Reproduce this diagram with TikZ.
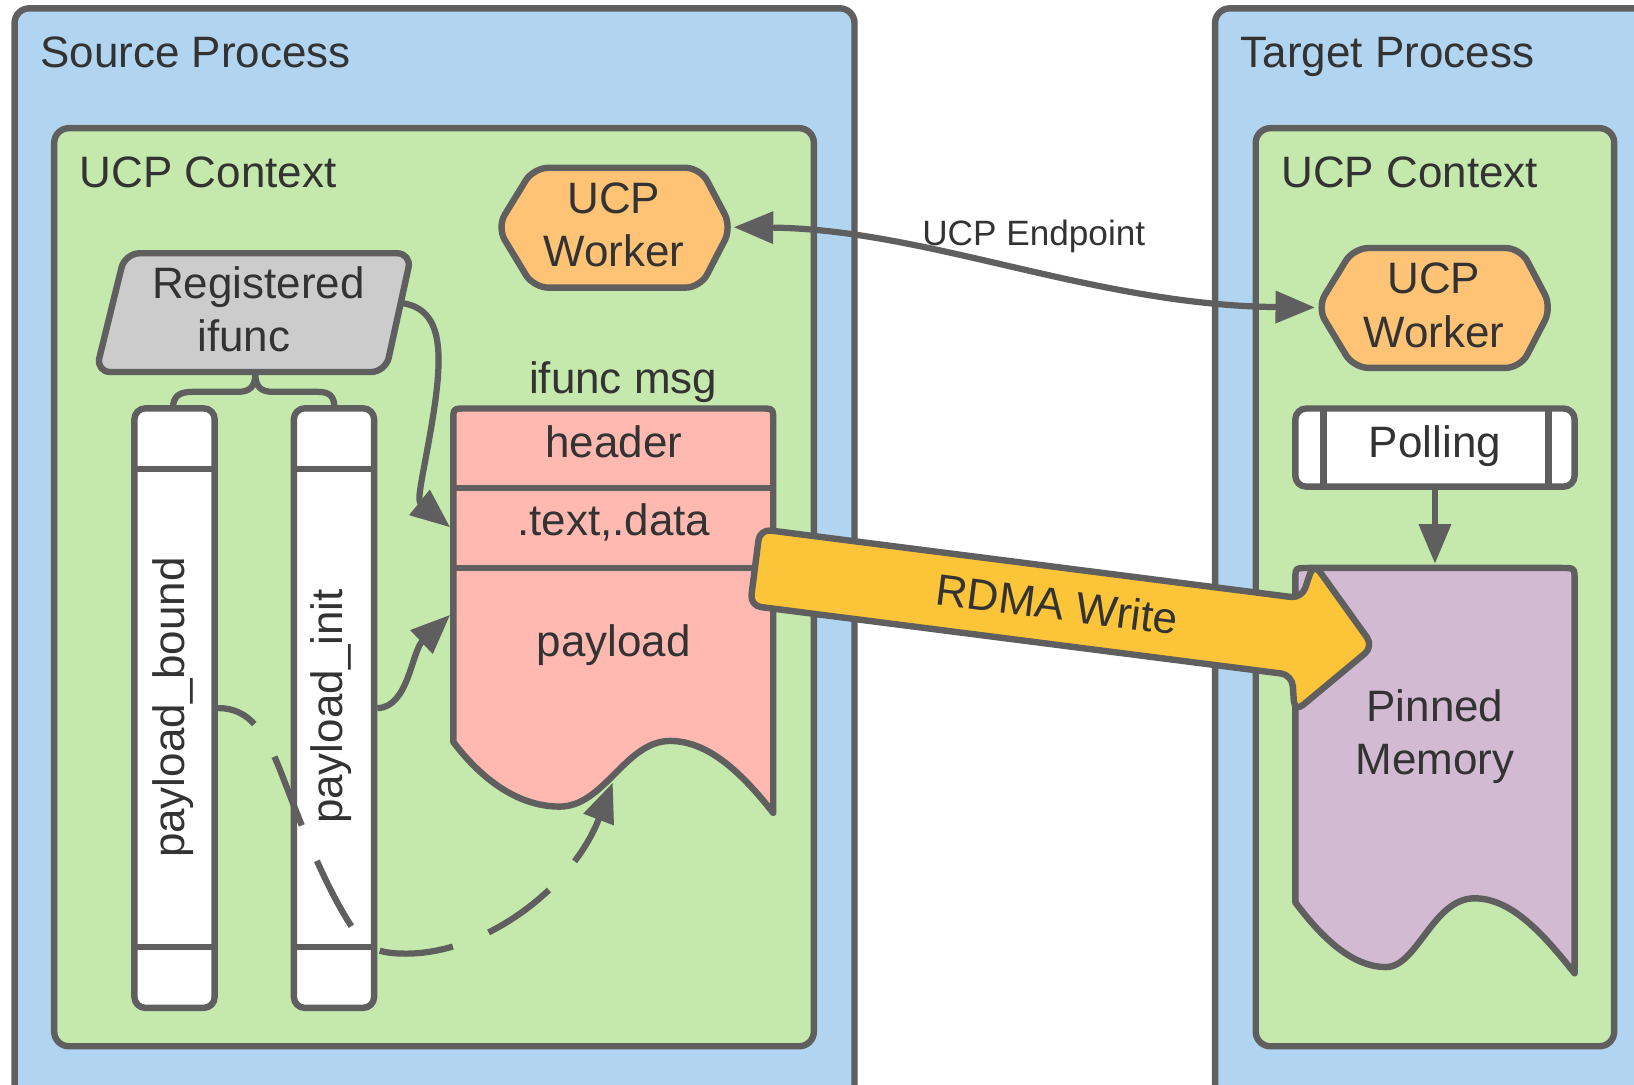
\documentclass[tikz,border=0pt]{standalone}
\usepackage{fontspec}
\setmainfont{Liberation Sans}
\usetikzlibrary{arrows.meta}
\definecolor{procblue}{HTML}{B1D5F0}
\definecolor{ctxgreen}{HTML}{C5E8AC}
\definecolor{workerorange}{HTML}{FFC375}
\definecolor{reggray}{HTML}{CCCCCC}
\definecolor{msgpink}{HTML}{FFB9B0}
\definecolor{pinpurple}{HTML}{D2BAD2}
\definecolor{rdmayellow}{HTML}{FCC438}
\definecolor{edge}{HTML}{5F5F5F}
\definecolor{ink}{HTML}{333333}
\begin{document}
\begin{tikzpicture}[x=0.01cm, y=-0.01cm,
  box/.style={draw=edge, line width=1.75pt, line join=round},
  txt/.style={text=ink, font=\fontsize{12}{14.5}\selectfont, inner sep=0pt, align=center},
  small/.style={text=ink, font=\fontsize{9.6}{11.5}\selectfont, inner sep=0pt},
  link/.style={draw=edge, line width=1.7pt, line join=round},
  arr/.style={-{Triangle[length=10.8pt,width=8.5pt]}},
  biarr/.style={{Triangle[length=10.8pt,width=8.5pt]}-{Triangle[length=10.8pt,width=8.5pt]}},
  colbox/.style={box, fill=white, rounded corners=3pt, minimum width=0.77cm, minimum height=5.75cm, inner sep=0pt},
]
\useasboundingbox (0,0) rectangle (1568,1041);
\clip (0,0) rectangle (1568,1041);

% process frames
\draw[box, fill=procblue, rounded corners=4pt] (14,8) rectangle (820,1080);
\node[txt, anchor=base west] (srcproc) at (38,65) {Source Process};
\draw[box, fill=procblue, rounded corners=4pt] (1166,8) rectangle (1610,1080);
\node[txt, anchor=base west] (tgtproc) at (1190,65) {Target Process};

% UCP contexts
\draw[box, fill=ctxgreen, rounded corners=4pt] (52,123) rectangle (781,1004);
\node[txt, anchor=base west] (srcctx) at (76,180) {UCP Context};
\draw[box, fill=ctxgreen, rounded corners=4pt] (1205,123) rectangle (1549,1004);
\node[txt, anchor=base west] (tgtctx) at (1229,180) {UCP Context};

% UCP workers
\draw[box, fill=workerorange, rounded corners=4pt]
  (592,161) -- (672,161) -- (702,218) -- (672,276) -- (512,276) -- (477,218) -- (512,161) -- cycle;
\node[txt] (srcworker) at (589,216) {UCP\\Worker};
\coordinate (swE) at (704,218);
\draw[box, fill=workerorange, rounded corners=4pt]
  (1379,238) -- (1459,238) -- (1489,295) -- (1459,353) -- (1299,353) -- (1264,295) -- (1299,238) -- cycle;
\node[txt] (tgtworker) at (1376,293) {UCP\\Worker};
\coordinate (twW) at (1262,295);

% registered ifunc
\draw[box, fill=reggray, rounded corners=4pt]
  (257,243) -- (395,243) -- (370,357) -- (92,357) -- (120,243) -- cycle;
\node[txt] (regifunc) at (241,297) {\hspace*{0.14cm}Registered\\ifunc\hspace*{0.14cm}};
\coordinate (regR) at (387,291);
\coordinate (regB) at (245,358);

% payload columns
\node[colbox] (colbound) at (167.5,679.5) {};
\draw[box] (129,450) -- (206,450) (129,909) -- (206,909);
\node[txt, rotate=90] (lblbound) at (166,679) {payload\_bound};
\node[colbox] (colinit) at (320.5,679.5) {};
\draw[box] (282,450) -- (359,450) (282,909) -- (359,909);
\node[txt, rotate=90] (lblinit) at (318,678) {payload\_init};
\coordinate (boundT) at (166,392);
\coordinate (initT) at (321,392);

% brace from registered ifunc to the columns
\draw[link] (boundT) .. controls (166,380) and (172,376) .. (185,376) -- (228,376)
  .. controls (240,376) and (245,371) .. (regB)
  .. controls (245,371) and (250,376) .. (262,376) -- (305,376)
  .. controls (316,376) and (321,380) .. (initT);

% ifunc msg
\node[txt, anchor=base] (msglbl) at (598,378) {ifunc msg};
\draw[box, fill=msgpink]
  (435,712) -- (435,404) .. controls (435,392) .. (447,392) -- (730,392)
  .. controls (742,392) .. (742,404) -- (742,780)
  .. controls (712,742) and (680,711) .. (643,711)
  .. controls (600,711) and (580,774) .. (537,774)
  .. controls (495,774) and (460,745) .. (435,712) -- cycle;
\draw[box] (435,468) -- (742,468) (435,545) -- (742,545);
\node[txt, anchor=base] (hdr) at (589,439) {header};
\node[txt, anchor=base] (txtdata) at (589,514) {.text,.data};
\node[txt, anchor=base] (pay) at (589,630) {payload};
\coordinate (msgL) at (432,506);
\coordinate (payL) at (432,590);
\coordinate (payB) at (588,751);

% polling and pinned memory
\draw[box, fill=white, rounded corners=3pt] (1243,392) rectangle (1511,467);
\draw[box] (1270,392) -- (1270,467) (1486,392) -- (1486,467);
\node[txt, anchor=base] (polling) at (1377,439) {Polling};
\coordinate (pollB) at (1377,467);
\draw[box, fill=pinpurple]
  (1243,866) -- (1243,557) .. controls (1243,545) .. (1255,545) -- (1499,545)
  .. controls (1511,545) .. (1511,557) -- (1511,934)
  .. controls (1480,895) and (1450,862) .. (1415,862)
  .. controls (1375,862) and (1360,928) .. (1330,928)
  .. controls (1295,928) and (1265,895) .. (1243,866) -- cycle;
\node[txt] (pinned) at (1377,707) {Pinned\\Memory};
\coordinate (pinT) at (1377,541);

% connectors
\draw[link, arr] (regR) .. controls (428,298) and (425,345) .. (413,415)
  .. controls (405,460) and (400,480) .. (msgL);
\draw[link, arr] (colinit.east) .. controls (392,679) and (395,625) .. (payL);
\draw[link, arr, dash pattern=on 20.2pt off 10.5pt, dash phase=9pt]
  (colbound.east) .. controls (240,679) and (255,705) .. (268,737)
  .. controls (285,780) and (310,850) .. (342,896)
  .. controls (352,910) and (365,916) .. (395,915)
  .. controls (470,912) and (550,850) .. (payB);
\draw[link, biarr] (swE) .. controls (890,220) and (1050,293) .. (twW);
\node[small, anchor=base] (eplbl) at (992,236) {UCP Endpoint};
\draw[link, arr] (pollB) -- (pinT);

% RDMA write arrow, laid out along its own axis
\begin{scope}[shift={(724.5,544.5)}, x={(0.009919cm,-0.001271cm)}, y={(-0.001271cm,-0.009919cm)}]
  \draw[box, fill=rdmayellow, rounded corners=3pt]
    (0,0) -- (0,-37) -- (524,-37) -- (531,-72) -- (598,0) -- (531,72) -- (524,37) -- (0,37) -- cycle;
  \node[txt, rotate=-7.3] (rdma) at (292,-2) {RDMA Write};
\end{scope}
\end{tikzpicture}
\end{document}
